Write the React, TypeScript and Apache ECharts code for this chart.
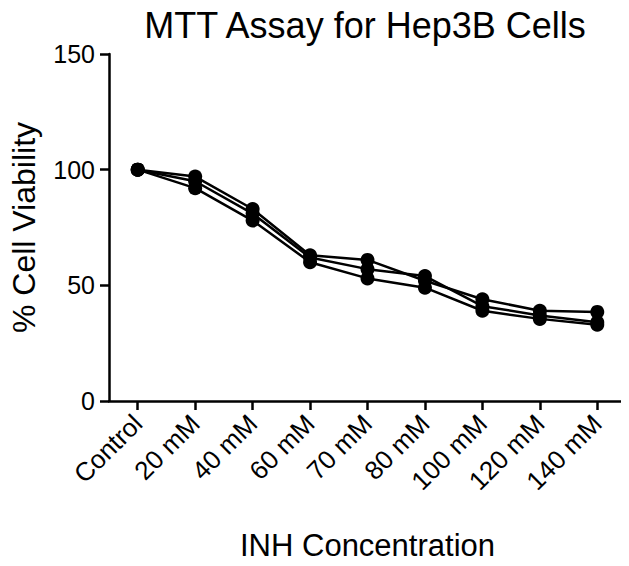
import React, { useEffect, useRef } from "react";
import * as echarts from "echarts";

const categories = ["Control", "20 mM", "40 mM", "60 mM", "70 mM", "80 mM", "100 mM", "120 mM", "140 mM"];
const series1 = [100, 97, 83, 63, 61, 52, 44, 39, 38.5];
const series2 = [100, 95, 81, 62, 57, 54, 41, 37, 34];
const series3 = [100, 92, 78, 60, 53, 49, 39, 35.5, 33];
const yTicks = [0, 50, 100, 150];

const FONT = "Liberation Sans, Arial, sans-serif";

export default function App() {
  const ref = useRef<HTMLDivElement>(null);
  useEffect(() => {
    if (!ref.current) return;
    const chart = echarts.init(ref.current, undefined, { renderer: "svg" });
    const mk = (name: string, data: number[]) => ({
      name,
      type: "line",
      data,
      symbol: "circle",
      symbolSize: 14,
      itemStyle: { color: "#000" },
      lineStyle: { color: "#000", width: 2.5 },
    });
    chart.setOption({
      animation: false,
      backgroundColor: "#fff",
      title: {
        text: "MTT Assay for Hep3B Cells",
        left: 360,
        textAlign: "center",
        top: 2,
        textStyle: { fontFamily: FONT, fontSize: 36, fontWeight: "normal", color: "#000" },
      },
      grid: { left: 97, right: 3, top: 54, bottom: 159, containLabel: false },
      xAxis: {
        type: "category",
        data: categories,
        boundaryGap: true,
        name: "INH Concentration",
        nameLocation: "middle",
        nameGap: 129,
        nameTextStyle: { fontFamily: FONT, fontSize: 31, color: "#000" },
        axisLine: { show: true, lineStyle: { color: "#000", width: 2.5 } },
        axisTick: { show: true, alignWithLabel: true, length: 9, lineStyle: { color: "#000", width: 2.5 } },
        axisLabel: { rotate: 45, fontFamily: FONT, fontSize: 26, color: "#000", margin: 18 },
        splitLine: { show: false },
      },
      yAxis: {
        type: "value",
        min: yTicks[0],
        max: yTicks[yTicks.length - 1],
        interval: 50,
        name: "% Cell Viability",
        nameLocation: "middle",
        nameGap: 69,
        nameTextStyle: { fontFamily: FONT, fontSize: 32, color: "#000" },
        axisLine: { show: true, lineStyle: { color: "#000", width: 2.5 } },
        axisTick: { show: true, length: 9, lineStyle: { color: "#000", width: 2.5 } },
        axisLabel: { fontFamily: FONT, fontSize: 25, color: "#000", margin: 14 },
        splitLine: { show: false },
      },
      series: [mk("A", series1), mk("B", series2), mk("C", series3)],
    });
    return () => chart.dispose();
  }, []);
  return <div ref={ref} style={{ width: 629, height: 566, margin: "-8px 0 0 -8px" }} />;
}
